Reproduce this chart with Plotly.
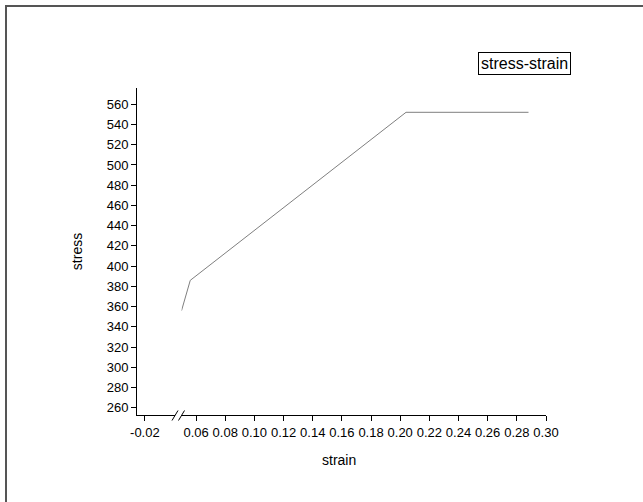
import plotly.graph_objects as go

strain = [0.050, 0.056, 0.204, 0.288]
stress = [356, 386, 552, 552]
series_name = "stress-strain"
left_ticks = [-0.02]
right_ticks = [0.06, 0.08, 0.10, 0.12, 0.14, 0.16, 0.18, 0.20, 0.22, 0.24, 0.26, 0.28, 0.30]
y_ticks = list(range(260, 561, 20))

L, R, T, B = 137, 97, 88, 87
W, H = 643, 502
pw = W - L - R
ph = H - T - B

def px_x(p):
    return (p - L) / pw

def px_y(p):
    return (H - B - p) / ph

fig = go.Figure()
fig.add_trace(go.Scatter(x=strain, y=stress, mode="lines", xaxis="x2", yaxis="y",
                         line=dict(color="#7f7f7f", width=1), showlegend=False, name=series_name))
fig.add_trace(go.Scatter(x=[None], y=[None], xaxis="x", yaxis="y", showlegend=False))

fam = "Liberation Sans, Arial, sans-serif"
font = dict(family=fam, size=13, color="black")
axcommon = dict(showline=True, linecolor="black", linewidth=1, ticks="outside", ticklen=5,
                tickcolor="black", tickwidth=1, showgrid=False, zeroline=False, tickfont=font)

fig.update_layout(
    width=W, height=H,
    margin=dict(l=L, r=R, t=T, b=B),
    paper_bgcolor="white", plot_bgcolor="white",
    xaxis=dict(domain=[0, px_x(174.5)], range=[-0.0253, 0.0], tickvals=left_ticks,
               ticktext=["-0.02"], anchor="y", **axcommon),
    xaxis2=dict(domain=[px_x(181.5), 1], range=[0.05, 0.30], tickvals=right_ticks,
                ticktext=[f"{v:.2f}" for v in right_ticks], anchor="y", **axcommon),
    yaxis=dict(range=[253, 576], tickvals=y_ticks, domain=[0, 1], anchor="x",
               title=dict(text="stress", font=dict(family=fam, size=14, color="black"), standoff=20),
               **axcommon),
)

# x axis title centred under the whole broken axis
fig.add_annotation(xref="paper", yref="paper", x=px_x(339), y=px_y(460),
                   text="strain", showarrow=False, xanchor="center", yanchor="middle",
                   font=dict(family=fam, size=14, color="black"))

# axis break slashes
for cx in (175.0, 181.5):
    fig.add_shape(type="line", xref="paper", yref="paper",
                  x0=px_x(cx - 3), y0=px_y(420.5), x1=px_x(cx + 3), y1=px_y(410.5),
                  line=dict(color="black", width=1))

# page frame
fig.add_shape(type="rect", xref="paper", yref="paper",
              x0=px_x(6), y0=px_y(520), x1=px_x(660), y1=px_y(6),
              line=dict(color="#555555", width=2), fillcolor="rgba(0,0,0,0)", layer="below")

# legend box
fig.add_annotation(xref="paper", yref="paper", x=px_x(524), y=px_y(63.5),
                   text=series_name, showarrow=False, xanchor="center", yanchor="middle",
                   font=dict(family=fam, size=16, color="black"),
                   bordercolor="black", borderwidth=1, borderpad=2, bgcolor="white")

fig.write_html("out.html")
